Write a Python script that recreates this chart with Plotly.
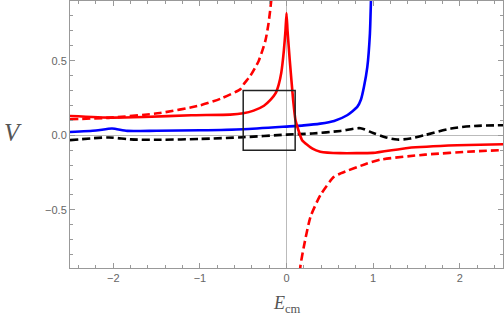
import plotly.graph_objects as go

# ---- data ----
blue_x = [-2.5, -2.2, -2.015, -1.84, -1.5, -1.0, -0.5, 0.0, 0.2, 0.39, 0.55, 0.7, 0.817, 0.86, 0.894, 0.933, 0.963, 0.975, 0.985]
blue_y = [0.022, 0.032, 0.045, 0.029, 0.030, 0.033, 0.040, 0.058, 0.066, 0.078, 0.096, 0.134, 0.19, 0.24, 0.323, 0.457, 0.68, 0.9, 1.1]

red_x = [-2.5, -2.03, -1.65, -1.1, -0.65, -0.5, -0.38, -0.26, -0.18, -0.127, -0.09, -0.06, -0.03, -0.012, 0.0, 0.012, 0.038, 0.077, 0.104, 0.18, 0.3, 0.39, 0.62, 1.0, 1.4, 1.97, 2.5]
red_y = [0.129, 0.118, 0.122, 0.134, 0.138, 0.147, 0.165, 0.198, 0.24, 0.28, 0.34, 0.42, 0.57, 0.70, 0.82, 0.70, 0.50, 0.234, 0.10, -0.033, -0.09, -0.11, -0.12, -0.118, -0.085, -0.067, -0.06]

redd1_x = [-2.5, -2.03, -1.46, -1.0, -0.76, -0.53, -0.49, -0.416, -0.32, -0.243, -0.21, -0.19, -0.177, -0.165]
redd1_y = [0.107, 0.118, 0.149, 0.20, 0.245, 0.31, 0.346, 0.40, 0.50, 0.636, 0.74, 0.83, 0.9, 1.0]

redd2_x = [0.15, 0.16, 0.2, 0.277, 0.393, 0.547, 0.624, 0.93, 1.09, 1.6, 2.17, 2.5]
redd2_y = [-1.0, -0.88, -0.748, -0.547, -0.40, -0.279, -0.256, -0.19, -0.163, -0.13, -0.108, -0.10]

black_x = [-2.5, -2.05, -1.8, -1.46, -1.0, -0.5, 0.0, 0.3, 0.624, 0.855, 1.0, 1.15, 1.28, 1.43, 1.59, 1.9, 2.17, 2.5]
black_y = [-0.033, -0.015, -0.028, -0.030, -0.025, -0.013, 0.004, 0.012, 0.029, 0.047, 0.015, -0.015, -0.029, -0.022, 0.0, 0.045, 0.062, 0.067]

box_x = [-0.5, 0.1]
box_y = [-0.1, 0.3]

x_range = [-2.5, 2.5]
y_range = [-0.89, 0.90]
x_ticks = [-2, -1, 0, 1, 2]
x_ticklabels = ["\u22122", "\u22121", "0", "1", "2"]
y_ticks = [-0.5, 0.0, 0.5]
y_ticklabels = ["\u22120.5", "0.0", "0.5"]

fig = go.Figure()
LW = 2.6
dash = "8px,4px"
fig.add_trace(go.Scatter(x=black_x, y=black_y, mode="lines", hoverinfo="skip",
                         line=dict(color="black", width=LW, dash=dash, shape="spline", smoothing=0.8)))
fig.add_trace(go.Scatter(x=redd1_x, y=redd1_y, mode="lines", hoverinfo="skip",
                         line=dict(color="#ff0000", width=LW, dash=dash, shape="spline", smoothing=0.6)))
fig.add_trace(go.Scatter(x=redd2_x, y=redd2_y, mode="lines", hoverinfo="skip",
                         line=dict(color="#ff0000", width=LW, dash=dash, shape="spline", smoothing=0.6)))
fig.add_trace(go.Scatter(x=blue_x, y=blue_y, mode="lines", hoverinfo="skip",
                         line=dict(color="#0000ff", width=LW, shape="spline", smoothing=0.6)))
fig.add_trace(go.Scatter(x=red_x, y=red_y, mode="lines", hoverinfo="skip",
                         line=dict(color="#ff0000", width=LW, shape="spline", smoothing=0.4)))

fig.add_shape(type="rect", x0=box_x[0], x1=box_x[1], y0=box_y[0], y1=box_y[1],
              xref="x", yref="y", line=dict(color="#222222", width=1.5))

axis_common = dict(showgrid=False, showline=True, linecolor="#999999", linewidth=1,
                   mirror="allticks", ticks="inside", ticklen=5, tickcolor="#999999",
                   tickfont=dict(family="Liberation Sans, Arial", size=11, color="#666666"),
                   zeroline=True, zerolinecolor="#bbbbbb", zerolinewidth=1)

fig.update_xaxes(range=x_range, tickvals=x_ticks, ticktext=x_ticklabels,
                 minor=dict(ticks="inside", dtick=0.2, ticklen=3, tickcolor="#999999"),
                 **axis_common)
fig.update_yaxes(range=y_range, tickvals=y_ticks, ticktext=y_ticklabels,
                 minor=dict(ticks="inside", dtick=0.1, ticklen=3, tickcolor="#999999"),
                 **axis_common)

fig.add_annotation(text="<i>V</i>", xref="paper", yref="y", x=-0.132, y=0.02,
                   showarrow=False, xanchor="center", yanchor="middle",
                   font=dict(family="Liberation Serif, Times New Roman", size=25, color="#555555"))
fig.add_annotation(text="<i>E</i><sub>cm</sub>", xref="x", yref="paper", x=0.0, y=-0.135,
                   showarrow=False, xanchor="center", yanchor="middle",
                   font=dict(family="Liberation Serif, Times New Roman", size=18, color="#555555"))

fig.update_layout(width=504, height=319, showlegend=False, hovermode=False,
                  margin=dict(l=70, r=1, t=1, b=51),
                  plot_bgcolor="white", paper_bgcolor="white")

fig.write_html("out.html", config={"displayModeBar": False},
               post_script="document.body.style.margin='0';document.body.style.padding='0';")
